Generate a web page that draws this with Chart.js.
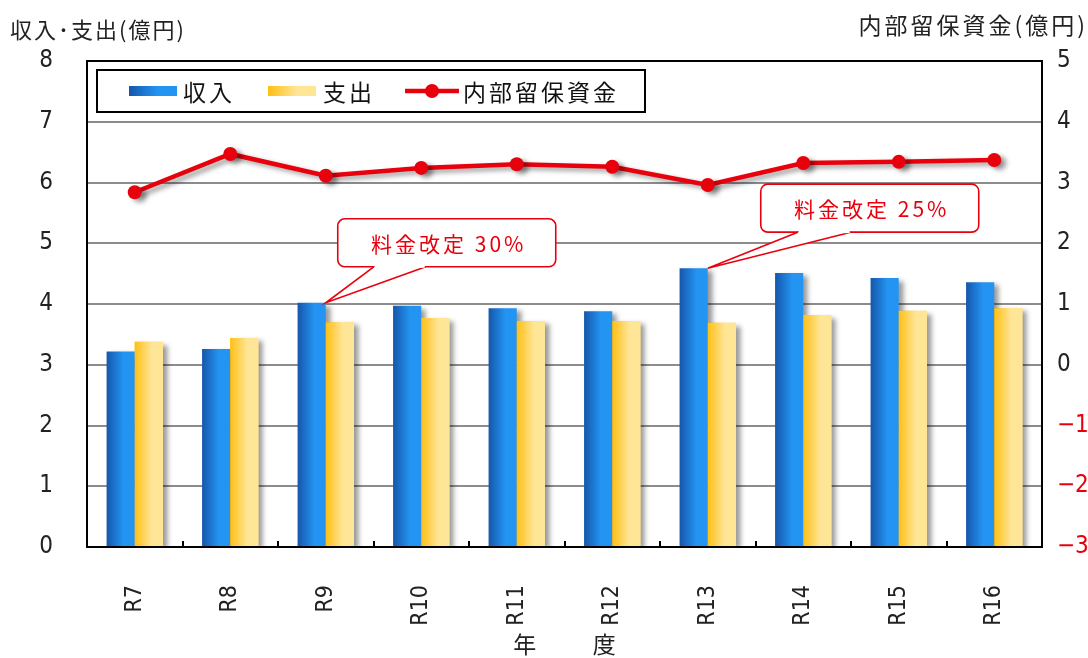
<!DOCTYPE html>
<html>
<head>
<meta charset="utf-8">
<script src="https://cdn.jsdelivr.net/npm/chart.js@4/dist/chart.umd.min.js"></script>
<style>
  html, body { margin: 0; padding: 0; background: #fff; }
  #wrap { width: 1088px; height: 658px; }
</style>
</head>
<body>
<div id="wrap"><canvas id="chart1" width="1088" height="658"></canvas></div>
<script>
// data (億円)
const years = ['R7', 'R8', 'R9', 'R10', 'R11', 'R12', 'R13', 'R14', 'R15', 'R16'];
const income = [3.22, 3.26, 4.02, 3.97, 3.93, 3.88, 4.59, 4.51, 4.43, 4.36];
const expense = [3.38, 3.44, 3.70, 3.77, 3.72, 3.72, 3.69, 3.82, 3.89, 3.93];
const reserve = [2.84, 3.47, 3.11, 3.24, 3.30, 3.26, 2.96, 3.32, 3.34, 3.37];
const leftTicks = [0, 8, 1];    // min, max, step
const rightTicks = [-3, 5, 1];
const notes = [
    { index: 2, text: '料金改定 30%' },
    { index: 6, text: '料金改定 25%' }
];

const FONT = '"Liberation Sans Narrow", "DejaVu Sans Condensed", "Noto Sans CJK JP", sans-serif';
const JFONT = '"Noto Sans CJK JP", sans-serif';
const CAT = 0.59;

const blueCols = ['#1656ab', '#2394f2'];
const yellowCols = ['#ffbf14', '#ffe596'];
const red = '#e8000c';

function barFill(cols, side) {
    return function (c) {
        const x = c.chart.scales.x;
        if (!x || c.dataIndex === undefined) return cols[1];
        const w = (x.right - x.left) / years.length * CAT / 2;
        const cx = x.getPixelForValue(c.dataIndex);
        if (!isFinite(w) || !isFinite(cx)) return cols[1];
        const x0 = side < 0 ? cx - w : cx;
        const g = c.chart.ctx.createLinearGradient(x0, 0, x0 + w, 0);
        g.addColorStop(0, cols[0]);
        g.addColorStop(0.6, cols[1]);
        g.addColorStop(1, cols[1]);
        return g;
    };
}

const shadow = {
    id: 'shadow',
    beforeDatasetDraw(chart) {
        const c = chart.ctx;
        c.save();
        c.shadowColor = 'rgba(0,0,0,0.4)';
        c.shadowBlur = 5;
        c.shadowOffsetX = 5;
        c.shadowOffsetY = 3;
    },
    afterDatasetDraw(chart, args) {
        const c = chart.ctx;
        c.restore();
        // repaint the 支出 bars so the 収入 shadow does not fall on them
        if (args.index === 1) {
            const a = chart.chartArea;
            c.save();
            c.beginPath();
            c.rect(a.left, a.top, a.right - a.left, a.bottom - a.top);
            c.clip();
            chart.getDatasetMeta(2).data.forEach(el => el.draw(c));
            c.restore();
        }
    }
};

const frame = {
    id: 'frame',
    afterDatasetsDraw(chart) {
        const c = chart.ctx, a = chart.chartArea, x = chart.scales.x;
        c.save();
        c.strokeStyle = '#000';
        c.lineWidth = 2;
        c.strokeRect(a.left, a.top, a.right - a.left, a.bottom - a.top);
        const step = (a.right - a.left) / years.length;
        c.beginPath();
        for (let i = 1; i < years.length; i++) {
            const px = Math.round(x.getPixelForValue(i) - step / 2);
            c.moveTo(px, a.bottom);
            c.lineTo(px, a.bottom - 6);
        }
        c.stroke();
        c.restore();
    }
};

const extras = {
    id: 'extras',
    afterDraw(chart) {
        const c = chart.ctx, a = chart.chartArea;
        const xs = chart.scales.x, ys = chart.scales.y;
        c.save();
        // axis titles
        c.fillStyle = '#222';
        c.textBaseline = 'middle';
        c.textAlign = 'left';
        c.font = '22px ' + JFONT;
        c.letterSpacing = '2px';
        c.fillText('収入･支出(億円)', 10, 30);
        c.textAlign = 'right';
        c.font = '23px ' + JFONT;
        c.letterSpacing = '3px';
        c.fillText('内部留保資金(億円)', 1088, 25);

        // legend box
        const lx = a.left + 10, ly = a.top + 9, lw = 548, lh = 42;
        c.fillStyle = '#fff';
        c.fillRect(lx, ly, lw, lh);
        c.strokeStyle = '#000';
        c.lineWidth = 2;
        c.strokeRect(lx, ly, lw, lh);
        const my = ly + lh / 2;
        const sw = (x0, cols) => {
            const g = c.createLinearGradient(x0, 0, x0 + 48, 0);
            g.addColorStop(0, cols[0]);
            g.addColorStop(0.6, cols[1]);
            g.addColorStop(1, cols[1]);
            c.fillStyle = g;
            c.fillRect(x0, my - 5, 48, 10);
        };
        c.font = '23px ' + JFONT;
        c.textAlign = 'left';
        c.letterSpacing = '3px';
        const ds = chart.data.datasets;
        sw(lx + 32, blueCols);
        c.fillStyle = '#111';
        c.fillText(ds[1].label, lx + 86, my + 1);
        sw(lx + 171, yellowCols);
        c.fillStyle = '#111';
        c.fillText(ds[2].label, lx + 226, my + 1);
        c.strokeStyle = red;
        c.lineWidth = 4.5;
        c.beginPath();
        c.moveTo(lx + 308, my);
        c.lineTo(lx + 362, my);
        c.stroke();
        c.fillStyle = red;
        c.beginPath();
        c.arc(lx + 335, my, 7, 0, Math.PI * 2);
        c.fill();
        c.fillStyle = '#111';
        c.fillText(ds[0].label, lx + 366, my + 1);

        // callouts
        c.font = '21px ' + JFONT;
        c.letterSpacing = '3px';
        notes.forEach((n, k) => {
            const tx = xs.getPixelForValue(n.index);
            const ty = ys.getPixelForValue(income[n.index]);
            const off = k === 0 ? [12, 48, 100] : [53, 90, 143];
            const bx = tx + off[0], by = ty - 84, bw = 218, bh = 48;
            c.beginPath();
            c.roundRect(bx, by, bw, bh, 7);
            c.fillStyle = '#fff';
            c.fill();
            c.strokeStyle = red;
            c.lineWidth = 1.6;
            c.stroke();
            c.beginPath();
            c.moveTo(tx + off[1], by + bh);
            c.lineTo(tx, ty);
            c.lineTo(tx + off[2], by + bh);
            c.closePath();
            c.fillStyle = '#fff';
            c.fill();
            c.beginPath();
            c.moveTo(tx + off[1], by + bh);
            c.lineTo(tx, ty);
            c.lineTo(tx + off[2], by + bh);
            c.stroke();
            c.fillStyle = '#fff';
            c.fillRect(tx + off[1] + 1, by + bh - 2, off[2] - off[1] - 2, 3);
            c.fillStyle = red;
            c.textAlign = 'center';
            c.fillText(n.text, bx + bw / 2 + 2, by + bh / 2 + 1);
        });
        c.restore();
    }
};

window.onload = function () {

    let chart1 = document.getElementById('chart1').getContext('2d');

    new Chart(chart1, {
        type: 'bar',
        data: {
            labels: years,
            datasets: [{
                type: 'line',
                label: '内部留保資金',
                data: reserve,
                yAxisID: 'y2',
                borderColor: red,
                borderWidth: 4.5,
                pointRadius: 7,
                pointBackgroundColor: red,
                pointBorderColor: red,
                pointBorderWidth: 0,
                tension: 0,
                order: 0
            },
            {
                label: '収入',
                data: income,
                yAxisID: 'y',
                backgroundColor: barFill(blueCols, -1),
                categoryPercentage: CAT,
                barPercentage: 1,
                order: 1
            },
            {
                label: '支出',
                data: expense,
                yAxisID: 'y',
                backgroundColor: barFill(yellowCols, 1),
                categoryPercentage: CAT,
                barPercentage: 1,
                order: 1
            }]
        },
        options: {
            responsive: false,
            animation: false,
            layout: { padding: { top: 61, left: 0, right: 0, bottom: 0 } },
            plugins: {
                legend: { display: false },
                tooltip: { enabled: false }
            },
            scales: {
                x: {
                    grid: { display: false },
                    border: { display: false },
                    ticks: {
                        color: '#222',
                        font: { family: FONT, size: 23 },
                        minRotation: 90,
                        maxRotation: 90,
                        padding: 30
                    },
                    title: {
                        display: true,
                        text: '年　　  度',
                        color: '#222',
                        font: { family: JFONT, size: 23 },
                        padding: { top: 0, bottom: 0 }
                    },
                    afterFit(s) { s.height = 111; }
                },
                y: {
                    position: 'left',
                    min: leftTicks[0],
                    max: leftTicks[1],
                    grid: { color: '#8c8c8c', lineWidth: 2, drawTicks: false },
                    border: { display: false },
                    ticks: {
                        stepSize: leftTicks[2],
                        color: '#222',
                        font: { family: FONT, size: 24 },
                        padding: 34
                    },
                    afterFit(s) { s.width = 87; }
                },
                y2: {
                    position: 'right',
                    min: rightTicks[0],
                    max: rightTicks[1],
                    grid: { display: false, drawTicks: false },
                    border: { display: false },
                    ticks: {
                        stepSize: rightTicks[2],
                        color: c => c.tick.value < 0 ? red : '#222',
                        font: { family: FONT, size: 24 },
                        padding: 15,
                        callback: v => v < 0 ? '−' + Math.abs(v) : v
                    },
                    afterFit(s) { s.width = 46; }
                }
            }
        },
        plugins: [shadow, frame, extras]
    });
}
</script>
</body>
</html>
